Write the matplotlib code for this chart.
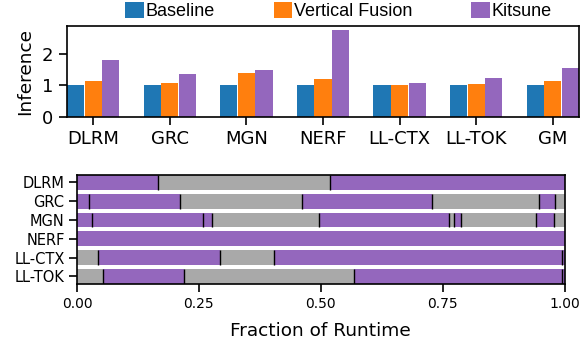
import matplotlib
matplotlib.use("Agg")
import matplotlib.pyplot as plt
import numpy as np

# ---- data: top chart (normalized inference speedup) ----
workloads = ["DLRM", "GRC", "MGN", "NERF", "LL-CTX", "LL-TOK", "GM"]
series_names = ["Baseline", "Vertical Fusion", "Kitsune"]
baseline = [1.0, 1.0, 1.0, 1.0, 1.0, 1.0, 1.0]
vertical_fusion = [1.14, 1.08, 1.40, 1.20, 1.02, 1.05, 1.14]
kitsune = [1.81, 1.36, 1.49, 2.77, 1.08, 1.24, 1.56]
series_colors = ["#1f77b4", "#ff7f0e", "#9467bd"]

# ---- data: bottom chart (runtime breakdown, segment boundaries) ----
rt_workloads = ["DLRM", "GRC", "MGN", "NERF", "LL-CTX", "LL-TOK"]
rt_bounds = [
    [0.0, 0.167, 0.518, 1.0],
    [0.0, 0.025, 0.212, 0.462, 0.729, 0.948, 0.981, 1.0],
    [0.0, 0.031, 0.259, 0.276, 0.497, 0.763, 0.773, 0.788, 0.942, 0.979, 1.0],
    [0.0, 1.0],
    [0.0, 0.044, 0.294, 0.405, 0.995, 1.0],
    [0.0, 0.054, 0.220, 0.569, 0.995, 1.0],
]
# K = Kitsune-mapped segment (purple), O = other (gray)
rt_kinds = [
    ["K", "O", "K"],
    ["K", "K", "O", "K", "O", "K", "O"],
    ["K", "K", "K", "O", "K", "O", "K", "O", "K", "O"],
    ["K"],
    ["O", "K", "O", "K", "K"],
    ["O", "K", "O", "K", "K"],
]
kind_colors = {"K": "#9467bd", "O": "#a9a9a9"}

W, H = 580, 345
fig = plt.figure(figsize=(W / 100, H / 100), dpi=100)

def px_axes(l, t, r, b):
    return fig.add_axes([l / W, (H - b) / H, (r - l) / W, (b - t) / H])

# ---------------- top chart ----------------
ax1 = px_axes(66.7, 26, 579.3, 116.7)
x = np.arange(len(workloads))
bw = 0.225
off = 0.23
for i, (vals, c, name) in enumerate(zip([baseline, vertical_fusion, kitsune], series_colors, series_names)):
    ax1.bar(x + (i - 1) * off, vals, width=bw, color=c, label=name, linewidth=0)
ax1.set_xlim(-0.345, len(workloads) - 1 + 0.345)
ax1.set_ylim(0, 2.9)
ax1.set_xticks(x)
ax1.set_xticklabels(workloads, fontsize=13)
ax1.set_yticks([0, 1, 2])
ax1.tick_params(axis="both", labelsize=13, length=6, width=1.2, direction="out")
ax1.set_ylabel("Inference", fontsize=13.3, labelpad=6)
for s in ax1.spines.values():
    s.set_linewidth(1.2)

leg = ax1.legend(
    loc="upper left",
    bbox_to_anchor=(125.3 / W, 1 - 1.5 / H),
    bbox_transform=fig.transFigure,
    ncol=3,
    frameon=False,
    prop={"family": "Liberation Sans", "size": 13},
    handlelength=1.03,
    handleheight=1.03,
    handletextpad=0.1,
    columnspacing=3.25,
    borderpad=0,
    borderaxespad=0,
)

# ---------------- bottom chart ----------------
ax2 = px_axes(77, 174.7, 564.5, 284)
bh = 0.78
for row, (bounds, kinds) in enumerate(zip(rt_bounds, rt_kinds)):
    b = np.array(bounds)
    ax2.barh(np.full(len(kinds), row), b[1:] - b[:-1], left=b[:-1], height=bh,
             color=[kind_colors[k] for k in kinds], linewidth=0)
    inner = b[1:-1]
    if len(inner):
        ax2.vlines(inner, row - bh / 2, row + bh / 2, colors="black", linewidth=1.0)
ax2.set_xlim(0, 1)
ax2.set_ylim(len(rt_workloads) - 1 + 0.41, -0.41)
ax2.set_yticks(np.arange(len(rt_workloads)))
ax2.set_yticklabels(rt_workloads, fontsize=10.5)
ax2.set_xticks([0, 0.25, 0.5, 0.75, 1.0])
ax2.set_xticklabels(["0.00", "0.25", "0.50", "0.75", "1.00"], fontsize=10)
ax2.tick_params(axis="both", length=5.5, width=1.2, direction="out")
ax2.set_xlabel("Fraction of Runtime", fontsize=13.3, labelpad=8)
for s in ax2.spines.values():
    s.set_linewidth(1.2)

fig.savefig("out.png", dpi=100)
